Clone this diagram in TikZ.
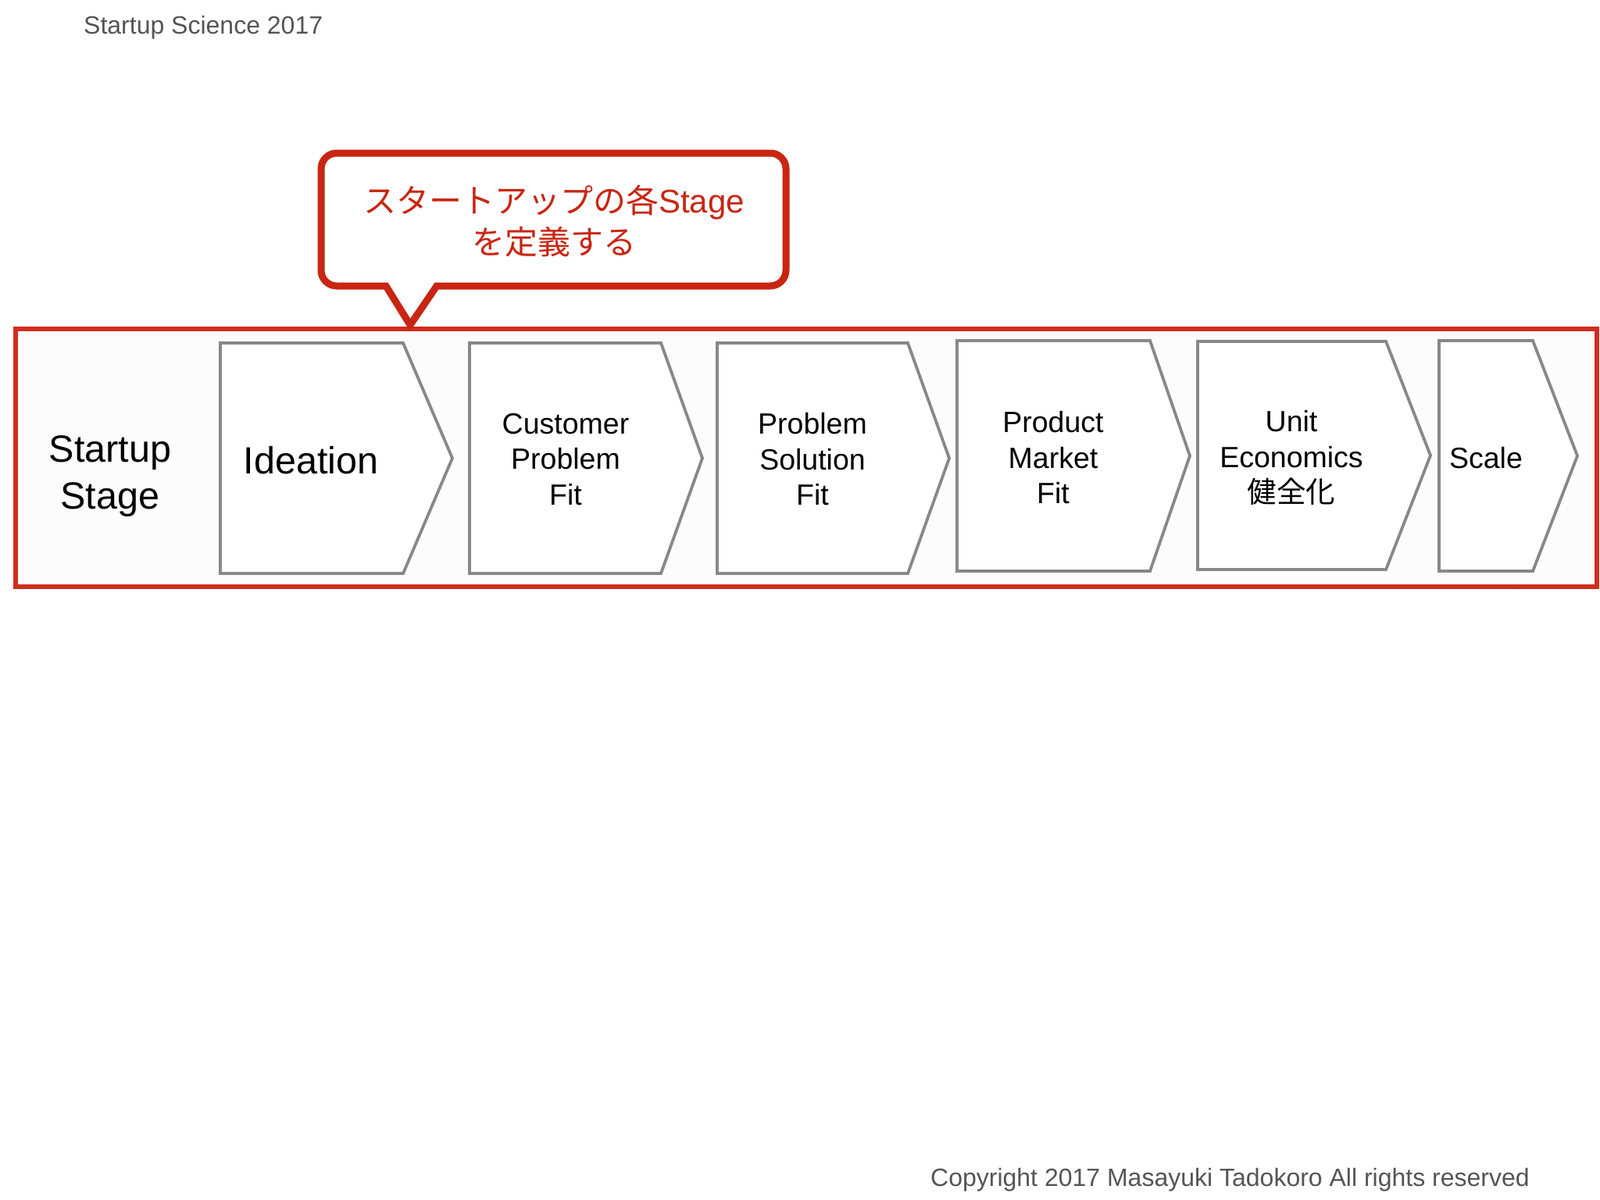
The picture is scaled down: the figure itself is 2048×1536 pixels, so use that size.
\documentclass[tikz,border=0pt]{standalone}
\usepackage{fontspec}
\setmainfont{Liberation Sans}
\newfontfamily\cjk{Noto Sans CJK JP}
\usetikzlibrary{decorations.pathmorphing}
\definecolor{bandred}{RGB}{208,45,30}
\definecolor{callred}{RGB}{200,38,18}
\definecolor{chevgray}{RGB}{136,136,136}
\definecolor{notegray}{RGB}{85,85,85}
\newcommand{\stagechev}[5]{%
  \draw[chev] (#1,#4) -- (#2,#4) -- (#3,{(#4+#5)/2}) -- (#2,#5) -- (#1,#5) -- cycle;}
\tikzset{
  chev/.style={draw=chevgray, line width=3.8pt, fill=white, line join=miter},
  band/.style={draw=bandred, line width=6pt},
  bandrough/.style={draw=bandred, line width=2.5pt, decorate,
    decoration={random steps, segment length=3pt, amplitude=1.3pt}},
  callbox/.style={draw=callred, line width=9pt, fill=white, line join=miter},
  calltext/.style={text=callred, align=center, inner sep=0pt,
    font={\fontsize{42}{53}\selectfont}},
  bigtext/.style={align=center, inner sep=0pt, font={\fontsize{48.5}{60}\selectfont}},
  stagetext/.style={align=center, inner sep=0pt, font={\fontsize{37.5}{45.5}\selectfont}},
  notetext/.style={text=notegray, anchor=west, inner sep=0pt, font={\fontsize{32}{38}\selectfont}},
}
\begin{document}
\begin{tikzpicture}[x=1pt,y=-1pt]
\useasboundingbox (0,0) rectangle (2048,1536);
\fill[white] (0,0) rectangle (2048,1536);

% header and footer
\node[notetext] (title) at (107,35) {Startup Science 2017};
\node[notetext] (copy) at (1191,1510) {Copyright 2017 Masayuki Tadokoro All rights reserved};

% red band
\fill[white!99!black] (20,421) rectangle (2044,751);
\draw[band] (20,421) rectangle (2044,751);
\draw[bandrough] (20,421) -- (2044,421) -- (2044,751) -- (20,751) -- cycle;

% chevrons
\stagechev{282}{516}{579}{439}{734}
\stagechev{601}{846}{899}{439}{734}
\stagechev{918}{1162}{1215}{439}{734}
\stagechev{1225}{1472}{1523}{436}{731}
\stagechev{1533}{1774}{1831}{437}{729}
\stagechev{1842}{1962}{2019}{436}{731}

% labels
\node[bigtext] (stage) at (141,610) {Startup\\Stage};
\node[bigtext] (ideation) at (398,589) {Ideation};
\node[stagetext] (cpf) at (724,588) {Customer\\Problem\\Fit};
\node[stagetext] (psf) at (1040,588) {Problem\\Solution\\Fit};
\node[stagetext] (pmf) at (1348,586) {Product\\Market\\Fit};
\node[stagetext] (ue) at (1653,586) {Unit\\Economics\\{\cjk 健全化}};
\node[stagetext] (scale) at (1902,586) {Scale};

% callout
\draw[callbox] (494,366) -- (431,366) arc[start angle=90, end angle=180, radius=20]
  -- (411,216) arc[start angle=180, end angle=270, radius=20]
  -- (986,196) arc[start angle=270, end angle=360, radius=20]
  -- (1006,346) arc[start angle=0, end angle=90, radius=20]
  -- (559,366) -- (525,416) -- cycle;
\node[calltext] (msg) at (709,283) {{\cjk スタートアップの各}Stage\\{\cjk を定義する}};
\end{tikzpicture}
\end{document}
